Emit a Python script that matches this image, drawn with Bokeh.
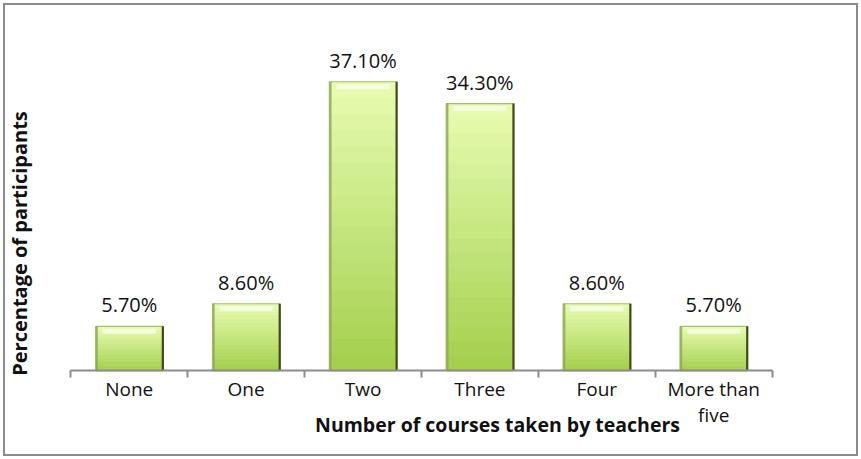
from bokeh.plotting import figure
from bokeh.models import Range1d, FixedTicker, Label, ColumnDataSource
from bokeh.embed import file_html
from bokeh.resources import INLINE
from bokeh.core.properties import value

categories = ["None", "One", "Two", "Three", "Four", "More than\nfive"]
percentages = [5.7, 8.6, 37.1, 34.3, 8.6, 5.7]
value_labels = ["5.70%", "8.60%", "37.10%", "34.30%", "8.60%", "5.70%"]
x_title = "Number of courses taken by teachers"
y_title = "Percentage of participants"

FONT = "Open Sans"
n = len(categories)
centers = [i + 0.5 for i in range(n)]
bounds = [float(i) for i in range(n + 1)]
W, H = 855, 453
CW, CH = W - 4, H - 4          # drawing area inside the 2px border
ax_left, ax_right, ax_base = 65, 763, 362   # pixel layout of the category axis
px_x = (ax_right - ax_left) / n
px_y = 7.72
BW = 0.575

x_rng = Range1d(-ax_left / px_x, n + (CW - ax_right) / px_x)
y_rng = Range1d(-(CH - ax_base) / px_y, ax_base / px_y)

p = figure(width=W, height=H, output_backend="svg", toolbar_location=None,
           x_range=x_rng, y_range=y_rng,
           min_border_left=0, min_border_right=0, min_border_top=0, min_border_bottom=0)
p.styles = {"border": "2px solid #8c8c8c", "margin-left": "3px", "margin-top": "3px"}
p.outline_line_color = None
p.grid.visible = False
p.yaxis.visible = False
p.background_fill_color = "white"
p.border_fill_color = "white"

ax = p.xaxis[0]
ax.fixed_location = 0
ax.bounds = (0, n)
ax.ticker = FixedTicker(ticks=centers, minor_ticks=bounds)
ax.major_label_overrides = {c: lab for c, lab in zip(centers, categories)}
ax.major_tick_line_color = None
ax.major_tick_out = 0
ax.major_tick_in = 0
ax.minor_tick_out = 7
ax.minor_tick_in = 0
ax.minor_tick_line_color = "#8c8c8c"
ax.minor_tick_line_width = 2
ax.axis_line_color = "#8c8c8c"
ax.axis_line_width = 2
ax.major_label_text_font = FONT
ax.major_label_text_font_size = "19px"
ax.major_label_text_color = "#111111"
ax.major_label_text_line_height = 1.0
ax.major_label_standoff = -2

# gradient-like bars built from stacked slices
top_c = (232, 253, 178)
bot_c = (163, 207, 76)
steps = 18
for k in range(steps):
    f0, f1 = k / steps, (k + 1) / steps
    t = (k + 0.5) / steps
    col = "#%02x%02x%02x" % tuple(int(bot_c[j] + (top_c[j] - bot_c[j]) * t) for j in range(3))
    src = ColumnDataSource(dict(x=centers,
                                bottom=[v * f0 for v in percentages],
                                top=[v * f1 for v in percentages]))
    p.vbar(x="x", bottom="bottom", top="top", width=BW, source=src,
           fill_color=col, line_color=col, line_width=0.8)

# bevel: soft highlight under the top edge, darker sides
hl = 5 / px_y
p.segment(x0=[c - BW / 2 + 0.06 for c in centers], y0=[v - hl for v in percentages],
          x1=[c + BW / 2 - 0.06 for c in centers], y1=[v - hl for v in percentages],
          line_color="#f8ffe6", line_width=5, line_alpha=0.85)
p.vbar(x=centers, top=percentages, width=BW, fill_color=None,
       line_color="#a8bd78", line_width=1.2)
p.segment(x0=[c - BW / 2 + 0.01 for c in centers], y0=[0] * n,
          x1=[c - BW / 2 + 0.01 for c in centers], y1=percentages,
          line_color="#8ea35e", line_width=2, line_alpha=0.8)
p.segment(x0=[c + BW / 2 for c in centers], y0=[0] * n,
          x1=[c + BW / 2 for c in centers], y1=percentages,
          line_color="#3f4a18", line_width=2.2)

p.text(x=centers, y=percentages, text=value_labels, text_align="center",
       text_baseline="bottom", y_offset=-8, text_font=value(FONT),
       text_font_size="20px", text_color="#111111")

p.add_layout(Label(x=12, y=236, x_units="canvas", y_units="canvas", text=y_title,
                   angle=90, angle_units="deg", text_align="center", text_baseline="middle",
                   text_font=FONT, text_font_size="20px", text_font_style="bold",
                   text_color="#111111"))
p.add_layout(Label(x=490, y=417, x_units="canvas", y_units="canvas", text=x_title,
                   text_align="center", text_baseline="middle",
                   text_font=FONT, text_font_size="19.5px", text_font_style="bold",
                   text_color="#111111"))

open("out.html", "w").write(file_html(p, INLINE))
